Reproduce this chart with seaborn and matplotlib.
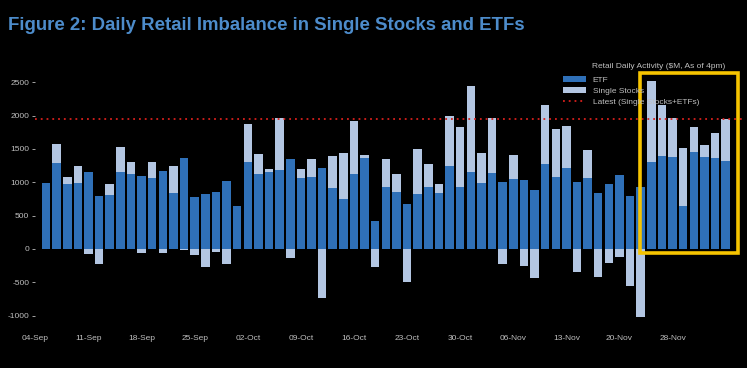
import matplotlib
matplotlib.use("Agg")
import matplotlib.pyplot as plt
from matplotlib import font_manager
from matplotlib.patches import Patch, Rectangle
from matplotlib.lines import Line2D
import seaborn as sns
import pandas as pd
import numpy as np

# ---- data ($M) ----
dates = pd.bdate_range("2023-09-05", "2023-12-05")
dates = [d for d in dates if d.strftime("%Y-%m-%d") != "2023-11-23"]
day_labels = [d.strftime("%d-%b") for d in dates]

etf = [985, 1285, 970, 995, 1150, 795, 805, 1160, 1120, 1095,
       1060, 1175, 835, 1370, 775, 825, 850, 1020, 645, 1300,
       1120, 1160, 1185, 1345, 1060, 1085, 1210, 915, 750, 1125,
       1370, 420, 925, 850, 675, 820, 925, 835, 1250, 925,
       1160, 995, 1145, 1000, 1050, 1040, 885, 1275, 1085, 1210,
       1000, 1060, 845, 975, 1110, 795, 925, 1310, 1400, 1385,
       650, 1450, 1385, 1365, 1315]
single = [0, 290, 105, 250, -70, -225, 170, 365, 185, -60,
          245, -60, 410, -15, -90, -265, -45, -225, 0, 575,
          305, 40, 785, -140, 140, 260, -730, 485, 695, 800,
          35, -275, 425, 270, -500, 680, 345, 140, 750, 900,
          1290, 450, 815, -225, 360, -250, -430, 880, 715, 635,
          -340, 425, -425, -215, -115, -555, -1015, 1215, 760, 585,
          860, 375, 170, 370, 640]

tick_labels = ["04-Sep", "11-Sep", "18-Sep", "25-Sep", "02-Oct", "09-Oct", "16-Oct",
               "23-Oct", "30-Oct", "06-Nov", "13-Nov", "20-Nov", "28-Nov"]
yticks = [-1000, -500, 0, 500, 1000, 1500, 2000, 2500]

title = "Figure 2: Daily Retail Imbalance in Single Stocks and ETFs"
legend_title = "Retail Daily Activity ($M, As of 4pm)"
series_names = ["ETF", "Single Stocks", "Latest (Single Stocks+ETFs)"]

# ---- style ----
names = {f.name for f in font_manager.fontManager.ttflist}
narrow = "Liberation Sans Narrow" if "Liberation Sans Narrow" in names else "Liberation Sans"

sns.set_theme(style="dark")
plt.rcParams["font.family"] = [narrow, "DejaVu Sans"]

C_ETF = "#2f70b8"
C_SS = "#b3c6e2"
C_RED = "#d8201c"
C_YEL = "#f6c400"
C_TXT = "#bfbfbf"

df = pd.DataFrame({"day": day_labels, "etf": etf, "single": single})
df["light"] = np.where(df["single"] > 0, df["etf"] + df["single"], df["single"])

fig = plt.figure(figsize=(7.47, 3.68), dpi=100, facecolor="black")
ax = fig.add_axes([35.4 / 747, 1 - 322.3 / 368, 706.2 / 747, 253.3 / 368])
ax.set_facecolor("black")

sns.barplot(data=df, x="day", y="light", order=day_labels, color=C_SS,
            saturation=1, width=0.8, ax=ax, linewidth=0)
sns.barplot(data=df, x="day", y="etf", order=day_labels, color=C_ETF,
            saturation=1, width=0.8, ax=ax, linewidth=0)

latest = etf[-1] + single[-1]
ax.axhline(latest, color=C_RED, lw=1.3, ls=(0, (1, 2.2)), zorder=3)

n = len(day_labels)
ax.add_patch(Rectangle((n - 9.1, -60), 9.3, 2700, fill=False, edgecolor=C_YEL,
                       lw=2.6, zorder=5, clip_on=False))

ax.set_xlim(-1.0, 65.5)
ax.set_ylim(-1100, 2700)
ax.set_xticks(np.arange(-1, -1 + 5 * len(tick_labels), 5))
ax.set_xticklabels(tick_labels)
ax.set_yticks(yticks)
ax.set_yticklabels([str(v) for v in yticks])
ax.tick_params(axis="x", length=0, pad=9, labelsize=6, colors=C_TXT)
ax.tick_params(axis="y", length=2.5, width=0.6, pad=2, labelsize=6, colors=C_TXT,
               left=True)
ax.set_xlabel("")
ax.set_ylabel("")
ax.grid(False)
for s in ax.spines.values():
    s.set_visible(False)

fig.text(8 / 747, 1 - 25 / 368, title, color="#4d8ccb", fontsize=13.4,
         fontweight="bold", va="center", ha="left")

handles = [Patch(facecolor=C_ETF, edgecolor="none"),
           Patch(facecolor=C_SS, edgecolor="none"),
           Line2D([0], [0], color=C_RED, lw=1.3, ls=(0, (1, 2.2)))]
leg = fig.legend(handles, series_names, loc="upper left",
                 bbox_to_anchor=(563 / 747, 1 - 75.5 / 368), frameon=False,
                 fontsize=6, handlelength=2.8, handleheight=0.8, handletextpad=0.75,
                 labelspacing=0.4, borderpad=0, borderaxespad=0)
for t in leg.get_texts():
    t.set_color(C_TXT)
fig.text(592 / 747, 1 - 66 / 368, legend_title, color=C_TXT, fontsize=6,
         va="center", ha="left")

fig.savefig("out.png", dpi=100, facecolor="black")
